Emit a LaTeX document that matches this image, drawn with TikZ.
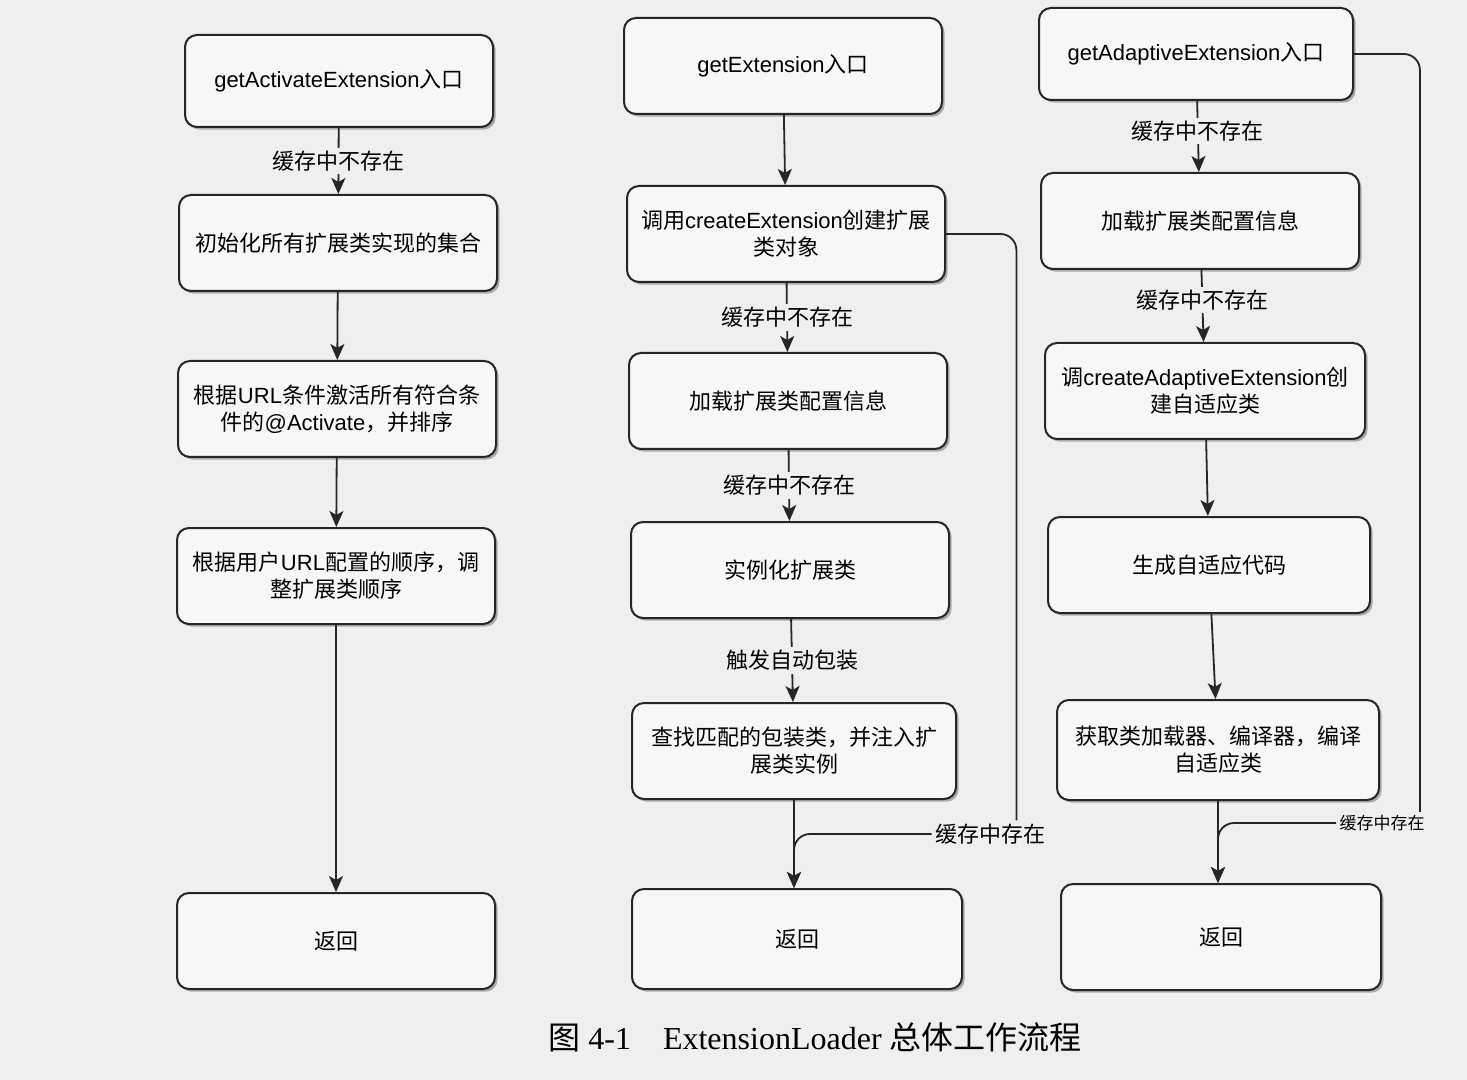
\documentclass[tikz,border=0pt]{standalone}
\usepackage{fontspec}
\setmainfont{Liberation Serif}
\newfontfamily\cjk{Noto Sans CJK SC}
\newfontfamily\lat{Liberation Sans}
\usetikzlibrary{arrows.meta,calc,positioning,shadows}

\definecolor{paper}{RGB}{239,239,237}
\definecolor{boxfill}{RGB}{247,247,246}
\definecolor{ink}{RGB}{38,38,38}

\tikzset{
	flowbox/.style={draw=ink, line width=1pt, rounded corners=6pt, fill=boxfill,
		minimum width=159pt, minimum height=48pt, align=center, inner sep=2pt,
		font=\cjk\fontsize{11}{13.5}\selectfont,
		drop shadow={shadow xshift=1.3pt, shadow yshift=-1.3pt, fill=black!55, opacity=0.55}},
	flowline/.style={draw=ink, line width=0.9pt},
	flowarrow/.style={flowline, -{Stealth[length=8pt,width=7pt,inset=2pt]}},
	cachelbl/.style={fill=paper, inner sep=1.5pt, font=\cjk\fontsize{11}{13.5}\selectfont},
}

\begin{document}
\begin{tikzpicture}[x=0.5pt, y=-0.5pt]
			%%%%% START %%%%%
			
			\fill[paper] (0, 0) rectangle (1467, 1080);
			\useasboundingbox (0, 0) rectangle (1467, 1080);
			
			% getActivateExtension
			\node[flowbox, minimum width=154pt, minimum height=46pt] (act1) at (339, 81) {{\lat getActivateExtension}入口};
			\node[flowbox] (act2) at (338, 243) {初始化所有扩展类实现的集合};
			\node[flowbox] (act3) at (337, 409) {根据{\lat URL}条件激活所有符合条\\件的{\lat @Activate}，并排序};
			\node[flowbox] (act4) at (336, 576) {根据用户{\lat URL}配置的顺序，调\\整扩展类顺序};
			\node[flowbox] (act5) at (336, 941) {返回};
			
			\draw[flowarrow] (act1) -- node[cachelbl] {缓存中不存在} (act2);
			\draw[flowarrow] (act2) -- (act3);
			\draw[flowarrow] (act3) -- (act4);
			\draw[flowarrow] (act4) -- (act5);
			
			% getExtension
			\node[flowbox] (ext1) at (783, 66) {{\lat getExtension}入口};
			\node[flowbox] (ext2) at (786, 234) {调用{\lat createExtension}创建扩展\\类对象};
			\node[flowbox] (ext3) at (788, 401) {加载扩展类配置信息};
			\node[flowbox] (ext4) at (790, 570) {实例化扩展类};
			\node[flowbox, minimum width=162pt] (ext5) at (794, 751) {查找匹配的包装类，并注入扩\\展类实例};
			\node[flowbox, minimum width=165pt, minimum height=50pt] (ext6) at (797, 939) {返回};
			
			\draw[flowarrow] (ext1) -- (ext2);
			\draw[flowarrow] (ext2) -- node[cachelbl] {缓存中不存在} (ext3);
			\draw[flowarrow] (ext3) -- node[cachelbl] {缓存中不存在} (ext4);
			\draw[flowarrow] (ext4) -- node[cachelbl] {触发自动包装} (ext5);
			\draw[flowarrow] (ext5.south) -- (ext5.south |- ext6.north);
			
			\node[cachelbl] (hitExt) at (990, 834) {缓存中存在};
			\coordinate (hitExtTop) at ($(hitExt.north east)+(-32, 0)$);
			\draw[flowline, rounded corners=8pt] (ext2.east) -| (hitExtTop);
			\draw[flowarrow, rounded corners=8pt] (hitExt.west) -| (ext5.south |- ext6.north);
			
			% getAdaptiveExtension
			\node[flowbox, minimum width=157pt, minimum height=46pt] (ada1) at (1196, 54) {{\lat getAdaptiveExtension}入口};
			\node[flowbox] (ada2) at (1200, 221) {加载扩展类配置信息};
			\node[flowbox, minimum width=160pt] (ada3) at (1205, 391) {调{\lat createAdaptiveExtension}创\\建自适应类};
			\node[flowbox, minimum width=161pt] (ada4) at (1209, 565) {生成自适应代码};
			\node[flowbox, minimum width=161pt, minimum height=50pt] (ada5) at (1218, 750) {获取类加载器、编译器，编译\\自适应类};
			\node[flowbox, minimum width=160pt, minimum height=53pt] (ada6) at (1221, 937) {返回};
			
			\draw[flowarrow] (ada1) -- node[cachelbl, pos=0.42] {缓存中不存在} (ada2);
			\draw[flowarrow] (ada2) -- node[cachelbl, pos=0.42] {缓存中不存在} (ada3);
			\draw[flowarrow] (ada3) -- (ada4);
			\draw[flowarrow] (ada4) -- (ada5);
			\draw[flowarrow] (ada5.south) -- (ada5.south |- ada6.north);
			
			\node[cachelbl, font=\cjk\fontsize{8.5}{10}\selectfont] (hitAda) at (1382, 823) {缓存中存在};
			\coordinate (hitAdaTop) at ($(hitAda.north east)+(-8, 0)$);
			\draw[flowline, rounded corners=8pt] (ada1.east) -| (hitAdaTop);
			\draw[flowarrow, rounded corners=8pt] (hitAda.west) -| (ada5.south |- ada6.north);
			
			% caption
			\node[font=\fontsize{16}{18}\selectfont] (caption) at (815, 1037) {{\cjk 图}~4-1\quad ExtensionLoader~{\cjk 总体工作流程}};
			
			%%%%% END %%%%%
		\end{tikzpicture}
\end{document}
